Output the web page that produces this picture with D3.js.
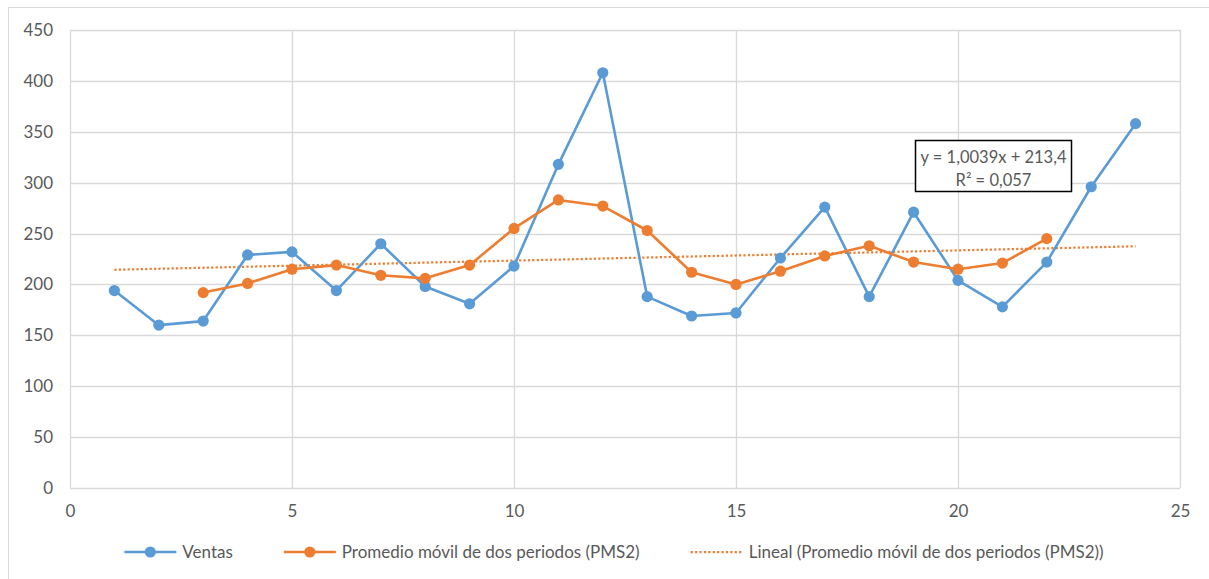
<!DOCTYPE html>
<html>
<head>
<meta charset="utf-8">
<script src="https://cdn.jsdelivr.net/npm/d3@7"></script>
<style>
  html, body { margin: 0; padding: 0; background: #fff; }
  svg { display: block; }
  text { font-family: Lato, "Liberation Sans", sans-serif; fill: #595959; }
</style>
</head>
<body>
<svg id="chart" width="1209" height="579"></svg>
<script>
// Periods and sales
const periods = [1,2,3,4,5,6,7,8,9,10,11,12,13,14,15,16,17,18,19,20,21,22,23,24];
const ventas  = [194,160,164,229,232,194,240,198,181,218,318,408,188,169,172,226,276,188,271,204,178,222,296,358];

// Two-period moving average (PMS2), periods 3..22
const pmsPeriods = [3,4,5,6,7,8,9,10,11,12,13,14,15,16,17,18,19,20,21,22];
const pmsValues  = [192,201,215,219,209,206,219,255,283,277,253,212,200,213,228,238,222,215,221,245];

// Linear trend of PMS2: y = slope*x + intercept
const trendSlope = 1.0039;
const trendIntercept = 213.4;
const trendRange = [1, 24];
const trendLabel = ["y = 1,0039x + 213,4", "R² = 0,057"];

// Axes
const xTicks = [0,5,10,15,20,25];
const yTicks = [0,50,100,150,200,250,300,350,400,450];

const legendLabels = ["Ventas", "Promedio móvil de dos periodos (PMS2)", "Lineal (Promedio móvil de dos periodos (PMS2))"];

const blue = "#5B9BD5", orange = "#ED7D31", grid = "#D9D9D9";
const fontSize = 17;

const svg = d3.select("#chart");
const plot = { left: 70, right: 1180, top: 30, bottom: 488 };

const x = d3.scaleLinear().domain([0, 25]).range([plot.left, plot.right]);
const y = d3.scaleLinear().domain([0, 450]).range([plot.bottom, plot.top]);

// Chart frame
svg.append("rect")
  .attr("x", 8.5).attr("y", 7.5).attr("width", 1220).attr("height", 600)
  .attr("fill", "none").attr("stroke", grid).attr("stroke-width", 1);

// Gridlines
const g = svg.append("g");
g.selectAll("line.hg").data(yTicks).join("line")
  .attr("x1", plot.left).attr("x2", plot.right)
  .attr("y1", d => Math.round(y(d)) + 0.5).attr("y2", d => Math.round(y(d)) + 0.5)
  .attr("stroke", grid).attr("stroke-width", 1.3);
g.selectAll("line.vg").data(xTicks).join("line")
  .attr("y1", plot.top).attr("y2", plot.bottom)
  .attr("x1", d => Math.round(x(d)) + 0.5).attr("x2", d => Math.round(x(d)) + 0.5)
  .attr("stroke", grid).attr("stroke-width", 1.3);

// Axes (labels only; lines come from the grid)
const yAxis = d3.axisLeft(y).tickValues(yTicks).tickSize(0).tickPadding(17);
svg.append("g").attr("transform", `translate(${plot.left},0)`).call(yAxis)
  .call(s => s.select(".domain").remove())
  .selectAll("text").attr("font-size", fontSize).attr("fill", "#595959")
  .style("font-family", "Lato, 'Liberation Sans', sans-serif");

const xAxis = d3.axisBottom(x).tickValues(xTicks).tickSize(0).tickPadding(17);
svg.append("g").attr("transform", `translate(0,${plot.bottom})`).call(xAxis)
  .call(s => s.select(".domain").remove())
  .selectAll("text").attr("font-size", fontSize).attr("fill", "#595959")
  .style("font-family", "Lato, 'Liberation Sans', sans-serif");

// Trend line (dotted)
svg.append("line")
  .attr("x1", x(trendRange[0])).attr("y1", y(trendSlope * trendRange[0] + trendIntercept))
  .attr("x2", x(trendRange[1])).attr("y2", y(trendSlope * trendRange[1] + trendIntercept))
  .attr("stroke", orange).attr("stroke-width", 2.25)
  .attr("stroke-dasharray", "2.2 2.2");

const line = d3.line().x(d => x(d[0])).y(d => y(d[1]));

const ventasData = periods.map((p, i) => [p, ventas[i]]);
const pmsData = pmsPeriods.map((p, i) => [p, pmsValues[i]]);

function series(data, color) {
  svg.append("path").datum(data)
    .attr("d", line).attr("fill", "none")
    .attr("stroke", color).attr("stroke-width", 2.6).attr("stroke-linejoin", "round");
  svg.append("g").selectAll("circle").data(data).join("circle")
    .attr("cx", d => x(d[0])).attr("cy", d => y(d[1])).attr("r", 5.6)
    .attr("fill", color);
}
series(ventasData, blue);
series(pmsData, orange);

// Trend equation box
const box = svg.append("g");
box.append("rect")
  .attr("x", 915.5).attr("y", 140.5).attr("width", 156).attr("height", 51)
  .attr("fill", "#fff").attr("stroke", "#000").attr("stroke-width", 1.5);
box.selectAll("text").data(trendLabel).join("text")
  .attr("x", 993.5).attr("y", (d, i) => 163 + i * 23)
  .attr("text-anchor", "middle").attr("font-size", 16.5)
  .text(d => d);

// Legend
const legend = svg.append("g");
const legendY = 552;
const items = legendLabels.map((t, i) => ({ t, i }));
const tmp = legend.selectAll("text").data(items).join("text")
  .attr("font-size", fontSize).attr("y", legendY).attr("dy", "0.35em").text(d => d.t);
const widths = [];
tmp.each(function () { widths.push(this.getComputedTextLength()); });
const symW = 52, gapT = 6, gapItem = 51;
const total = widths.reduce((a, w) => a + symW + gapT + w, 0) + gapItem * (widths.length - 1);
let cx = 614 - total / 2;
items.forEach((d, i) => { d.x = cx; cx += symW + gapT + widths[i] + gapItem; });
tmp.attr("x", d => d.x + symW + gapT);
items.forEach(d => {
  const color = d.i === 0 ? blue : orange;
  const l = legend.append("line")
    .attr("x1", d.x).attr("x2", d.x + symW)
    .attr("y1", legendY).attr("y2", legendY)
    .attr("stroke", color);
  if (d.i === 2) {
    l.attr("stroke-width", 2.25).attr("stroke-dasharray", "2.2 2.2");
  } else {
    l.attr("stroke-width", 2.6);
    legend.append("circle").attr("cx", d.x + symW / 2).attr("cy", legendY)
      .attr("r", 5.6).attr("fill", color);
  }
});
</script>
</body>
</html>
